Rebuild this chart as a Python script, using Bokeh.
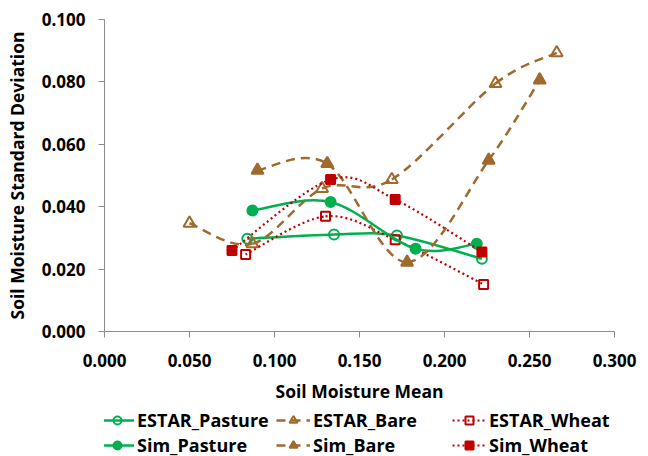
import numpy as np
from bokeh.plotting import figure
from bokeh.layouts import column
from bokeh.models import (Legend, LegendItem, NumeralTickFormatter,
                          FixedTicker, Range1d)
from bokeh.embed import file_html
from bokeh.resources import INLINE

# ---- data ----
series_names = ["ESTAR_Pasture", "ESTAR_Bare", "ESTAR_Wheat",
                "Sim_Pasture", "Sim_Bare", "Sim_Wheat"]

estar_pasture_x = [0.084, 0.135, 0.172, 0.222]
estar_pasture_y = [0.0297, 0.0311, 0.0308, 0.0233]
estar_bare_x = [0.050, 0.087, 0.128, 0.169, 0.230, 0.266]
estar_bare_y = [0.0347, 0.0281, 0.0458, 0.0487, 0.0795, 0.0893]
estar_wheat_x = [0.083, 0.130, 0.171, 0.223]
estar_wheat_y = [0.0247, 0.0369, 0.0294, 0.0151]
sim_pasture_x = [0.087, 0.133, 0.183, 0.219]
sim_pasture_y = [0.0388, 0.0415, 0.0265, 0.0281]
sim_bare_x = [0.090, 0.131, 0.178, 0.226, 0.256]
sim_bare_y = [0.0517, 0.0538, 0.0222, 0.0549, 0.0806]
sim_wheat_x = [0.075, 0.133, 0.171, 0.222]
sim_wheat_y = [0.0260, 0.0487, 0.0423, 0.0255]

x_tick_values = [0.0, 0.05, 0.10, 0.15, 0.20, 0.25, 0.30]
y_tick_values = [0.0, 0.02, 0.04, 0.06, 0.08, 0.10]

GREEN = "#00B050"
BROWN = "#A0692E"
RED = "#C00000"
FONT = "Open Sans"

styles = {
    "ESTAR_Pasture": dict(x=estar_pasture_x, y=estar_pasture_y, color=GREEN, dash="solid", marker="circle", size=10, filled=False),
    "ESTAR_Bare": dict(x=estar_bare_x, y=estar_bare_y, color=BROWN, dash="9 6", marker="triangle", size=12, filled=False),
    "ESTAR_Wheat": dict(x=estar_wheat_x, y=estar_wheat_y, color=RED, dash="2 3", marker="square", size=9, filled=False),
    "Sim_Pasture": dict(x=sim_pasture_x, y=sim_pasture_y, color=GREEN, dash="solid", marker="circle", size=10, filled=True),
    "Sim_Bare": dict(x=sim_bare_x, y=sim_bare_y, color=BROWN, dash="9 6", marker="triangle", size=12, filled=True),
    "Sim_Wheat": dict(x=sim_wheat_x, y=sim_wheat_y, color=RED, dash="2 3", marker="square", size=9, filled=True),
}


def smooth_controls(xs, ys, k=1.0 / 6.0):
    """Bezier control points (Catmull-Rom style) for a smoothed line through the data."""
    x = np.asarray(xs, dtype=float)
    y = np.asarray(ys, dtype=float)
    n = len(x)
    xp = np.concatenate([[x[0]], x, [x[-1]]])
    yp = np.concatenate([[y[0]], y, [y[-1]]])
    cx0 = xp[1:n] + (xp[2:n + 1] - xp[0:n - 1]) * k
    cy0 = yp[1:n] + (yp[2:n + 1] - yp[0:n - 1]) * k
    cx1 = xp[2:n + 1] - (xp[3:n + 2] - xp[1:n]) * k
    cy1 = yp[2:n + 1] - (yp[3:n + 2] - yp[1:n]) * k
    return dict(x0=x[:-1], y0=y[:-1], x1=x[1:], y1=y[1:],
                cx0=cx0, cy0=cy0, cx1=cx1, cy1=cy1)


def draw_series(fig, name, visible=True):
    s = styles[name]
    c = smooth_controls(s["x"], s["y"])
    r_line = fig.bezier(x0=c["x0"], y0=c["y0"], x1=c["x1"], y1=c["y1"],
                        cx0=c["cx0"], cy0=c["cy0"], cx1=c["cx1"], cy1=c["cy1"],
                        line_color=s["color"],
                        line_width=2.5 if s["dash"] != "2 3" else 2.2,
                        line_dash=s["dash"], visible=visible)
    r_mark = fig.scatter(s["x"], s["y"], marker=s["marker"], size=s["size"],
                         line_color=s["color"], line_width=2,
                         fill_color=s["color"] if s["filled"] else None,
                         visible=visible)
    return [r_line, r_mark]


# ---- main chart ----
p = figure(frame_width=510, frame_height=312,
           x_range=Range1d(0, 0.3), y_range=Range1d(0, 0.1),
           output_backend="svg", toolbar_location=None,
           min_border_left=104, min_border_right=34,
           min_border_top=19, min_border_bottom=69)
p.xgrid.visible = False
p.ygrid.visible = False
p.outline_line_color = None

for name in series_names:
    draw_series(p, name)

p.xaxis.ticker = FixedTicker(ticks=x_tick_values)
p.yaxis.ticker = FixedTicker(ticks=y_tick_values)
for ax in (p.xaxis[0], p.yaxis[0]):
    ax.formatter = NumeralTickFormatter(format="0.000")
    ax.axis_line_color = "#8C8C8C"
    ax.major_tick_line_color = "#8C8C8C"
    ax.major_tick_out = 6
    ax.major_tick_in = 0
    ax.minor_tick_line_color = None
    ax.major_label_text_font = FONT
    ax.major_label_text_font_style = "bold"
    ax.major_label_text_font_size = "17px"
    ax.major_label_text_color = "black"
    ax.axis_label_text_font = FONT
    ax.axis_label_text_font_style = "bold"
    ax.axis_label_text_font_size = "17.5px"
    ax.axis_label_text_color = "black"

p.xaxis.axis_label = "Soil Moisture Mean"
p.yaxis.axis_label = "Soil Moisture Standard Deviation"
p.xaxis.major_label_standoff = 16
p.xaxis.axis_label_standoff = 9
p.yaxis.major_label_standoff = 13
p.yaxis.axis_label_standoff = 10

# ---- legend strip below the chart ----
p2 = figure(width=648, height=53, x_range=Range1d(0, 0.3), y_range=Range1d(0, 0.1),
            output_backend="svg", toolbar_location=None,
            x_axis_location=None, y_axis_location=None, min_border=0)
p2.xgrid.visible = False
p2.ygrid.visible = False
p2.outline_line_color = None

legend_items = {}
for name in series_names:
    legend_items[name] = LegendItem(label=name, renderers=draw_series(p2, name, visible=False))


def make_legend(names, loc):
    return Legend(items=[legend_items[n] for n in names], location=loc,
                  orientation="horizontal",
                  glyph_width=34, glyph_height=20, label_height=20, label_width=134,
                  label_standoff=3, spacing=5, padding=0, margin=0,
                  label_text_font=FONT, label_text_font_style="bold",
                  label_text_font_size="18px", label_text_color="black",
                  background_fill_alpha=0, border_line_color=None,
                  inactive_fill_alpha=0)


p2.add_layout(make_legend(series_names[:3], (-4, 26)), "center")
p2.add_layout(make_legend(series_names[3:], (-4, 1)), "center")

layout = column(p, p2, spacing=0)
open("out.html", "w").write(file_html(layout, INLINE))
